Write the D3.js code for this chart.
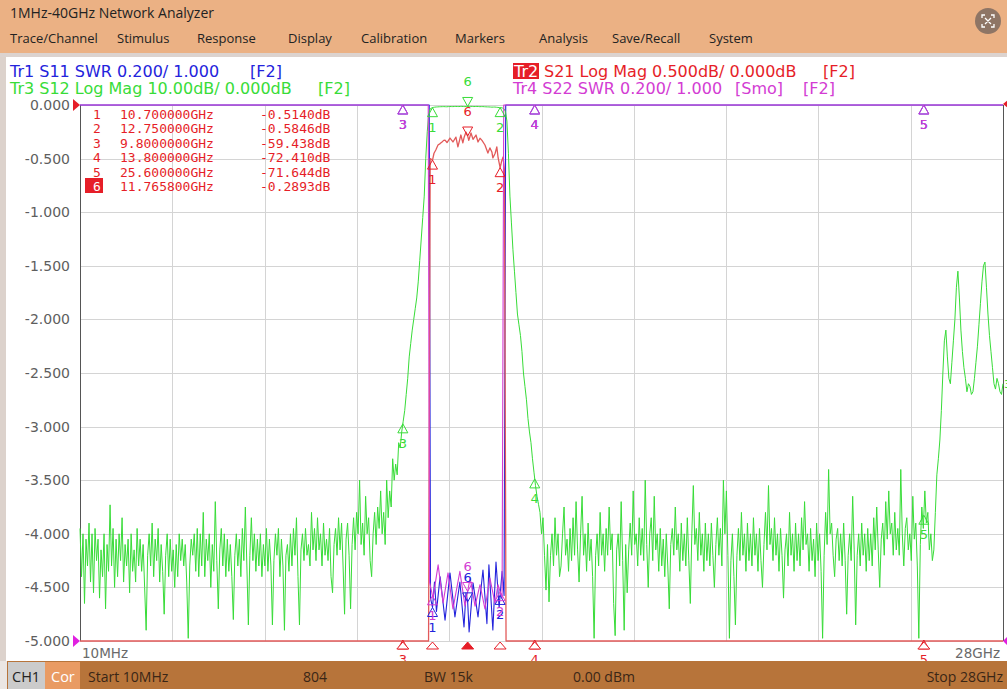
<!DOCTYPE html>
<html><head><meta charset="utf-8">
<script src="https://cdn.jsdelivr.net/npm/d3@7"></script>
<style>
html,body{margin:0;padding:0;background:#fff;overflow:hidden}
svg{display:block}
</style></head><body>
<svg id="c" width="1007" height="689"></svg>
<script>
// ---------------- DATA ----------------
const sweepStartGHz = 0.01, sweepStopGHz = 28;
const titleText = "1MHz-40GHz Network Analyzer";
const menuItems = ["Trace/Channel","Stimulus","Response","Display","Calibration","Markers","Analysis","Save/Recall","System"];
const yTicks = [0,-0.5,-1,-1.5,-2,-2.5,-3,-3.5,-4,-4.5,-5];
const xTickLabels = ["10MHz","28GHz"];
const statusItems = ["Start 10MHz","804","BW 15k","0.00 dBm","Stop 28GHz"];

const markerIds = [1,2,3,4,5,6];
const markerFreqGHz = [10.7,12.75,9.8,13.8,25.6,11.7658];
const markerS21dB = [-0.514,-0.5846,-59.438,-72.41,-71.644,-0.2893];
const activeMarker = 6;

// Tr3 S12 (dB), readings spread evenly over the sweep (10 MHz .. 28 GHz)
const s12dB = [
// low band noise
-79,-88,-80,-93,-81,-86,-78,-89,-80,-91,-79,-85,-81,-92,-83,-88,-80,-94,-82,-87,
-74.6,-86,-79,-90,-81,-88,-80,-85,-77,-89,-82,-86,-81,-91,-80,-87,-83,-89,-79,-86,
-81,-87,-82,-90,-98,-84,-80,-86,-78,-88,-81,-85,-79,-89,-82,-87,-95,-84,-80,-88,
-81,-87,-83,-90,-82,-88,-80,-85,-81,-86,-82,-89,-99.5,-86,-81,-84,-80,-87,-79,-88,
-80,-86,-76,-88,-81,-85,-80,-90,-82,-87,-74,-85,-94,-83,-79,-86,-80,-88,-81,-87,
-82,-88,-96,-84,-80,-86,-81,-88,-79,-85,-75,-86,-97,-84,-77,-85,-80,-87,-81,-86,
-80,-88,-82,-86,-79,-87,-81,-86,-97,-85,-80,-84,-79,-88,-81,-86,-98,-84,-82,-87,
-80,-86,-79,-84,-77,-88,-97,-83,-80,-85,-79,-84,-82,-86,-76,-83,-79,-85,-77,-83,
-80,-86,-78,-84,-81,-85,-79,-88,-91,-82,-79,-84,-77,-83,-78,-86,-95,-81,-78,-84,
-94,-82,-77,-83,-76,-80,-70,-82,-78,-84,-73,-80,-77,-85,-88,-80,-76,-82,-75,-79,
-72,
// lower skirt
-80,-76,-82,-70,-77,-72,-75,-66,-70,-67,-69,-63,-64,-61,-59,-57,-54,-51,-47,-44.5,
-42,-40,-38,-36,-33,-29,-25,-21,-17,-10,-5,-1.5,-0.7,-0.55,
// passband
-0.45,-0.40,-0.37,-0.35,-0.33,-0.32,-0.31,-0.30,-0.32,-0.33,
-0.30,-0.28,-0.29,-0.30,-0.28,-0.27,-0.28,-0.29,-0.27,-0.26,
-0.28,-0.30,-0.28,-0.27,-0.26,-0.25,-0.27,-0.29,-0.28,-0.27,
-0.28,-0.31,-0.30,-0.30,-0.32,-0.34,-0.35,-0.36,-0.38,-0.40,
-0.39,-0.38,-0.42,-0.45,-0.48,
// upper skirt
-0.5,-0.55,-0.7,-1.2,-3,-9,-17,-22,-27,-31,-35,-39,-41,-43,-46,-50,-52.5,-55,-58.5,-61,
-63,-66,-68.5,-71,-73,-74.5,-76,-80,-77,-84,
// high band noise
-90.5,-82,-92.7,-84,-80,-86,-77,-84,-80,-88,-86,-80,-75,-84,-81,-87,-79,-85,-77,-84,
-74,-83,-89,-80,-73,-84,-80,-87,-78,-85,-81,-88,-99.5,-84,-80,-86,-76,-84,-80,-87,
-79,-84,-75,-83,-80,-93,-99,-83,-80,-86,-74,-85,-98,-82,-91,-83,-78,-84,-72,-82,
-80,-86,-77,-84,-79,-85,-70,-82,-90,-80,-77,-85,-73,-83,-80,-87,-79,-86,-81,-88,
-80,-86,-94,-82,-79,-84,-75,-83,-80,-87,-78,-85,-80,-86,-77,-85,-93,-80,-71,-82,
-79,-85,-76,-84,-80,-87,-78,-85,-80,-86,-78,-84,-90,-82,-77,-84,-79,-86,-70,-80,
-72,-84,-99.5,-85,-80,-88,-97,-84,-79,-85,-76,-84,-80,-87,-78,-85,-80,-86,-77,-84,
-80,-87,-79,-85,-90,-82,-76,-83,-71,-82,-79,-85,-77,-84,-80,-87,-79,-84,-92,-83,
-80,-86,-76,-84,-80,-87,-78,-85,-80,-86,-77,-83,-74,-82,-80,-87,-79,-85,-81,-88,
-78,-85,-80,-87,-99.5,-84,-76,-82,-68,-80,-78,-84,-88,-81,-79,-85,-80,-86,-78,-85,
-95,-84,-80,-85,-73,-83,-97,-84,-80,-86,-78,-84,-80,-87,-79,-85,-80,-86,-77,-83,
-75,-83,-90,-81,-78,-84,-74,-81,-72,-80,-78,-84,-76,-83,-79,-84,-68,-80,-86,-79,
-77,-83,-80,-85,-73,-81,-78,-86,-99.5,-82,-75,-79,-72,-78,-76,-83,-80,
// stop band rise
-85,-83,-76,-69,-66,-62.5,-57,-50,-44,-42,-47,-51,-52,-48,-44,-40,-34,-31,-36,-42,
-46,-49,-51,-53.5,-52,-52.5,-54,-53.5,-51,-48,-45,-41,-37,-33,-30,-29.3,-34,-39,-43,-46,
-49,-52,-53,-51,-52,-53.5,-54,-52
];

// Tr2 S21 [GHz, dB]
const s21 = [[0.01,-78],[9.8,-59.438],[10.58,-30],[10.63,-0.50],[10.70,-0.514],[10.745,-0.45],[10.80,-0.42],[10.866,-0.373],[10.93,-0.36],[10.988,-0.345],[11.04,-0.33],[11.079,-0.327],[11.14,-0.35],[11.23,-0.308],[11.32,-0.345],[11.41,-0.30],[11.47,-0.39],[11.56,-0.28],[11.62,-0.354],[11.66,-0.30],[11.715,-0.252],[11.7658,-0.2893],[11.80,-0.33],[11.867,-0.261],[11.928,-0.32],[12.019,-0.28],[12.08,-0.345],[12.14,-0.31],[12.20,-0.33],[12.29,-0.373],[12.38,-0.448],[12.44,-0.40],[12.50,-0.438],[12.53,-0.494],[12.60,-0.45],[12.65,-0.39],[12.69,-0.494],[12.75,-0.5846],[12.80,-0.52],[12.84,-0.485],[12.88,-0.6],[12.93,-30],[13.8,-72.41],[25.6,-71.644],[28,-60]];

// Tr1 S11 SWR [GHz, SWR]
const s11 = [[0.01,12],[10.60,12],[10.64,1.16],[10.70,1.125],[10.76,1.22],[10.82,1.11],[10.93,1.24],[11.08,1.078],[11.23,1.254],[11.38,1.09],[11.53,1.22],[11.655,1.052],[11.715,1.18],[11.7658,1.146],[11.81,1.034],[11.93,1.216],[12.08,1.09],[12.23,1.265],[12.35,1.065],[12.41,1.284],[12.53,1.041],[12.625,1.295],[12.72,1.125],[12.81,1.26],[12.87,1.17],[12.92,12],[28,12]];

// Tr4 S22 SWR [GHz, SWR]
const s22 = [[0.01,12],[10.57,12],[10.61,1.22],[10.715,1.16],[10.87,1.284],[11.02,1.142],[11.17,1.254],[11.32,1.12],[11.53,1.26],[11.685,1.13],[11.84,1.235],[11.99,1.13],[12.14,1.21],[12.29,1.12],[12.44,1.235],[12.595,1.14],[12.685,1.21],[12.81,1.16],[12.86,12],[28,12]];

// ---------------- LAYOUT / STYLE ----------------
const W = 1007, H = 689;
const P = {l:80, r:1003, t:105, b:641};
const C = {blue:"#2323dc", red:"#e61e28", green:"#38dc38", mag:"#d33cd3"};
const menuX = [10,117,197,288,361,455,539,612,709];
const statusX = [88,303,424,573,1003];
const UI = "'Open Sans','Noto Sans',sans-serif";
const VF = "'DejaVu Sans',Verdana,sans-serif";

const svg = d3.select("#c");
svg.append("rect").attr("width",W).attr("height",H).attr("fill","#fff");

// title + menu bar
svg.append("rect").attr("x",0).attr("y",0).attr("width",W).attr("height",53).attr("fill","#ebb184");
svg.append("rect").attr("x",0).attr("y",53).attr("width",W).attr("height",4).attr("fill","#dcd3cf");
svg.append("rect").attr("x",0).attr("y",57).attr("width",6).attr("height",H-57).attr("fill","#dcd2cc");
svg.append("text").attr("x",10).attr("y",18).attr("font-family",UI).attr("font-size",14).attr("fill","#222").text(titleText);
svg.append("g").selectAll("text").data(menuItems).join("text")
  .attr("x",(d,i)=>menuX[i]).attr("y",43).attr("font-family",UI).attr("font-size",13).attr("fill","#222").text(d=>d);
// close button
const cb = svg.append("g").attr("transform","translate(988,21)");
cb.append("circle").attr("r",13).attr("fill","#8e7565");
cb.append("path").attr("d","M-6,-3V-6H-3M3,-6H6V-3M6,3V6H3M-3,6H-6V3M-3,-3L3,3M3,-3L-3,3")
  .attr("fill","none").attr("stroke","#fff").attr("stroke-width",1.3);

// scales
const x = d3.scaleLinear().domain([sweepStartGHz, sweepStopGHz]).range([P.l, P.r]);
const yLab = d3.scaleLinear().domain([-5,0]).range([P.b,P.t]);
const yS21 = d3.scaleLinear().domain([-5,0]).range([P.b,P.t]).clamp(true);
const yS12 = d3.scaleLinear().domain([-100,0]).range([P.b,P.t]).clamp(true);
const ySWR = d3.scaleLinear().domain([1,3]).range([P.b,P.t]).clamp(true);

const s12 = s12dB.map((v,i)=>[sweepStartGHz + i*(sweepStopGHz-sweepStartGHz)/(s12dB.length-1), v]);

// grid
const xDivs = d3.range(11).map(k => sweepStartGHz + k*(sweepStopGHz-sweepStartGHz)/10);
const grid = svg.append("g").attr("stroke","#d4d4d4").attr("stroke-width",1);
grid.selectAll(".h").data(yTicks).join("line").attr("x1",P.l).attr("x2",P.r)
  .attr("y1",d=>Math.round(yLab(d))+0.5).attr("y2",d=>Math.round(yLab(d))+0.5);
grid.selectAll(".v").data(xDivs.slice(1,10)).join("line").attr("y1",P.t).attr("y2",P.b)
  .attr("x1",d=>Math.round(x(d))+0.5).attr("x2",d=>Math.round(x(d))+0.5);
svg.append("line").attr("x1",P.l+0.5).attr("x2",P.l+0.5).attr("y1",P.t).attr("y2",P.b).attr("stroke","#555");
svg.append("line").attr("x1",P.r+0.5).attr("x2",P.r+0.5).attr("y1",P.t).attr("y2",P.b).attr("stroke","#555");

// y axis labels
svg.append("g").attr("transform",`translate(${P.l},0)`)
  .call(d3.axisLeft(yLab).tickValues(yTicks).tickFormat(d=>d.toFixed(3)).tickSize(0).tickPadding(10))
  .call(g=>g.select(".domain").remove())
  .attr("font-family",VF).attr("font-size",14)
  .selectAll("text").attr("fill","#5e5e5e");

// x labels
svg.append("text").attr("x",x(sweepStartGHz)+2).attr("y",658).attr("font-family",VF).attr("font-size",13.5).attr("fill","#6a6a6a").text(xTickLabels[0]);
svg.append("text").attr("x",x(sweepStopGHz)-3).attr("y",658).attr("text-anchor","end").attr("font-family",VF).attr("font-size",13.5).attr("fill","#6a6a6a").text(xTickLabels[1]);

// traces
svg.append("clipPath").attr("id","pc").append("rect").attr("x",P.l-1).attr("y",P.t-1).attr("width",P.r-P.l+2).attr("height",P.b-P.t+2);
const tr = svg.append("g").attr("clip-path","url(#pc)").attr("fill","none").attr("stroke-linejoin","round");
const line = ys => d3.line().x(d=>x(d[0])).y(d=>ys(d[1]));
tr.append("path").attr("d",line(ySWR)(s11)).attr("stroke",C.blue).attr("stroke-width",1.1);
tr.append("path").attr("d",line(yS21)(s21)).attr("stroke","#e25a5a").attr("stroke-width",1.3);
tr.append("path").attr("d",line(yS12)(s12)).attr("stroke",C.green).attr("stroke-width",1);
tr.append("path").attr("d",line(ySWR)(s22)).attr("stroke",C.mag).attr("stroke-width",1.1);

// markers
function interp(pairs,f){
  const i = d3.bisector(d=>d[0]).left(pairs,f);
  if(i<=0) return pairs[0][1];
  if(i>=pairs.length) return pairs[pairs.length-1][1];
  const a=pairs[i-1], b=pairs[i];
  return a[1]+(b[1]-a[1])*(f-a[0])/(b[0]-a[0]);
}
const mk = svg.append("g").attr("font-family",VF).attr("font-size",13).attr("text-anchor","middle");
function marker(cx,tip,color,id,active){
  if(active){
    mk.append("path").attr("d",`M${cx},${tip}L${cx-5},${tip-9}L${cx+5},${tip-9}Z`).attr("fill","none").attr("stroke",color);
    mk.append("text").attr("x",cx).attr("y",tip-20).attr("fill",color).text(id);
  } else {
    mk.append("path").attr("d",`M${cx},${tip}L${cx-5},${tip+9}L${cx+5},${tip+9}Z`).attr("fill","none").attr("stroke",color);
    mk.append("text").attr("x",cx).attr("y",tip+24).attr("fill",color).text(id);
  }
}
markerIds.forEach((id,i)=>{
  const f = markerFreqGHz[i], cx = x(f), act = id===activeMarker;
  marker(cx, ySWR(interp(s11,f)), C.blue, id, act);
  marker(cx, ySWR(interp(s22,f)), C.mag, id, act);
  marker(cx, yS12(interp(s12,f)), C.green, id, act);
  marker(cx, Math.min(yS21(markerS21dB[i]), P.b-1), C.red, id, act);
  mk.append("path").attr("d",`M${cx},${P.b+1}L${cx-6},${P.b+8}L${cx+6},${P.b+8}Z`)
    .attr("fill",act?C.red:"#fff").attr("stroke",C.red);
});

// reference position arrows
svg.append("path").attr("d",`M${P.l-7},${P.t-6}L${P.l},${P.t}L${P.l-7},${P.t+6}Z`).attr("fill",C.red);
svg.append("path").attr("d",`M${P.l-7},${P.b-6}L${P.l},${P.b}L${P.l-7},${P.b+6}Z`).attr("fill","#e020e0");
svg.append("path").attr("d",`M${P.r+5},${P.t-5}L${P.r},${P.t-1}L${P.r+5},${P.t+3}Z`).attr("fill",C.red);
svg.append("path").attr("d",`M${P.r+5},${P.b-5}L${P.r},${P.b}L${P.r+5},${P.b+5}Z`).attr("fill","#e020e0");
svg.append("text").attr("x",P.r+1).attr("y",388).attr("font-family",VF).attr("font-size",11).attr("fill",C.green).text("3");

// marker table
const mt = svg.append("g").attr("font-family","'DejaVu Sans Mono',monospace").attr("font-size",13).attr("fill",C.red);
markerIds.forEach((id,i)=>{
  const by = 119 + i*14.4;
  if(id===activeMarker){
    mt.append("rect").attr("x",85).attr("y",by-13).attr("width",18).attr("height",15).attr("fill",C.red);
  }
  mt.append("text").attr("x",97).attr("y",by).attr("text-anchor","middle").attr("fill",id===activeMarker?"#fff":C.red).text(id);
  mt.append("text").attr("x",120).attr("y",by).text(markerFreqGHz[i].toPrecision(8)+"GHz");
  const v = markerS21dB[i];
  mt.append("text").attr("x",260).attr("y",by).text((Math.abs(v)<1?v.toFixed(4):v.toFixed(3))+"dB");
});

// trace headers
const hd = svg.append("g").attr("font-family",VF).attr("font-size",16);
hd.append("text").attr("x",10).attr("y",77).attr("fill",C.blue).text("Tr1 S11 SWR 0.200/ 1.000");
hd.append("text").attr("x",250).attr("y",77).attr("fill",C.blue).text("[F2]");
hd.append("text").attr("x",10).attr("y",94).attr("fill",C.green).text("Tr3 S12 Log Mag 10.00dB/ 0.000dB");
hd.append("text").attr("x",318).attr("y",94).attr("fill",C.green).text("[F2]");
hd.append("rect").attr("x",513).attr("y",63).attr("width",26).attr("height",16).attr("fill",C.red);
hd.append("text").attr("x",514).attr("y",77).attr("fill","#fff").text("Tr2");
hd.append("text").attr("x",544).attr("y",77).attr("fill",C.red).text("S21 Log Mag 0.500dB/ 0.000dB");
hd.append("text").attr("x",823).attr("y",77).attr("fill",C.red).text("[F2]");
hd.append("text").attr("x",513).attr("y",94).attr("fill",C.mag).text("Tr4 S22 SWR 0.200/ 1.000");
hd.append("text").attr("x",735).attr("y",94).attr("fill",C.mag).text("[Smo]");
hd.append("text").attr("x",803).attr("y",94).attr("fill",C.mag).text("[F2]");

// status bar
svg.append("rect").attr("x",0).attr("y",661).attr("width",7).attr("height",28).attr("fill","#ebe6e3");
svg.append("rect").attr("x",7).attr("y",661).attr("width",W-7).attr("height",28).attr("fill","#b7743a");
svg.append("rect").attr("x",8).attr("y",662).attr("width",37).attr("height",27).attr("fill","#cbcbcb");
svg.append("rect").attr("x",45).attr("y",662).attr("width",35).attr("height",27).attr("fill","#e99b63");
svg.append("text").attr("x",12).attr("y",682).attr("font-family",UI).attr("font-size",14.5).attr("fill","#222").text("CH1");
svg.append("text").attr("x",51).attr("y",682).attr("font-family",UI).attr("font-size",14.5).attr("fill","#fff").text("Cor");
svg.append("g").selectAll("text").data(statusItems).join("text")
  .attr("x",(d,i)=>statusX[i]).attr("y",682).attr("text-anchor",(d,i)=>i===statusItems.length-1?"end":"start")
  .attr("font-family",UI).attr("font-size",14).attr("fill","#3a2616").text(d=>d);
</script>
</body></html>
